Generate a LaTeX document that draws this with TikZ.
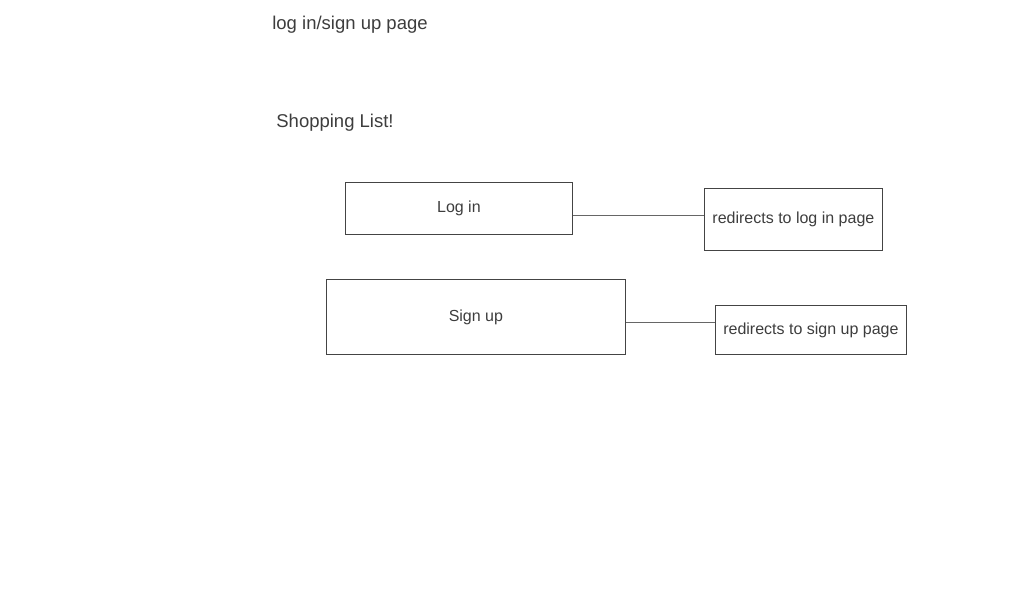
\documentclass[tikz,border=0pt]{standalone}
\usepackage{fontspec}
\setmainfont{Liberation Sans}
\definecolor{txt}{HTML}{3D3D3D}
\definecolor{edge}{HTML}{444444}
\definecolor{conn}{HTML}{666666}
\begin{document}
\begin{tikzpicture}[x=1pt,y=-1pt,
  box/.style={draw=edge,line width=0.8pt,text=txt,inner sep=0pt,font=\fontsize{16}{19}\selectfont,anchor=north west},
  title/.style={text=txt,inner sep=0pt,font=\fontsize{18.5}{22}\selectfont},
  link/.style={draw=conn,line width=0.8pt}]
\useasboundingbox (0,0) rectangle (1024,600);
\node[title] (t1) at (350,25) {log in/sign up page};
\node[title] (t2) at (335,123) {Shopping List!};
\node[box,minimum width=227pt,minimum height=52pt] (login) at (345,182) {Log in};
\node[box,minimum width=178pt,minimum height=62pt] (rlogin) at (704,188) {redirects to log in page};
\node[box,minimum width=299pt,minimum height=75pt] (signup) at (326,279) {Sign up};
\node[box,minimum width=191pt,minimum height=49pt] (rsignup) at (715,305) {redirects to sign up page};
\draw[link] ([yshift=-7pt]login.east) -- ([yshift=-7pt]login.east -| rlogin.west);
\draw[link] ([yshift=-5.5pt]signup.east) -- ([yshift=-5.5pt]signup.east -| rsignup.west);
\end{tikzpicture}
\end{document}
